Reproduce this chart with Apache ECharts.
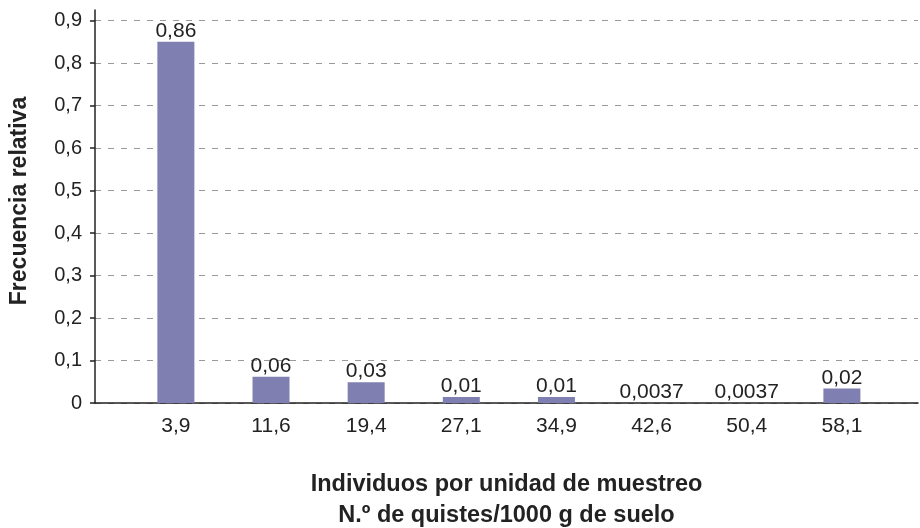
<!DOCTYPE html>
<html>
<head>
<meta charset="utf-8">
<script src="https://cdn.jsdelivr.net/npm/echarts@6/dist/echarts.min.js"></script>
<style>html,body{margin:0;padding:0;background:#fff}#c{width:920px;height:528px}</style>
</head>
<body>
<div id="c"></div>
<script>
const categories = ['3,9', '11,6', '19,4', '27,1', '34,9', '42,6', '50,4', '58,1'];
const barHeights = [0.85, 0.062, 0.049, 0.014, 0.014, 0, 0, 0.034];
const barLabels = ['0,86', '0,06', '0,03', '0,01', '0,01', '0,0037', '0,0037', '0,02'];
const yTicks = [0, 0.1, 0.2, 0.3, 0.4, 0.5, 0.6, 0.7, 0.8, 0.9];
const xTitle = 'Individuos por unidad de muestreo\nN.º de quistes/1000 g de suelo';
const yTitle = 'Frecuencia relativa';

const FONT = '"Liberation Sans", Arial, sans-serif';
const chart = echarts.init(document.getElementById('c'), null, {renderer: 'canvas'});
chart.setOption({
  animation: false,
  backgroundColor: '#fff',
  grid: {left: 95, right: 2, top: 10, bottom: 125, containLabel: false, outerBoundsMode: 'none'},
  graphic: [{
    type: 'text', x: 20, y: 201, rotation: Math.PI / 2,
    style: {text: yTitle, font: 'bold 23px ' + FONT, fill: '#222', align: 'center', verticalAlign: 'middle'}
  }],
  xAxis: {
    type: 'value', min: -0.85, max: 7.8,
    axisLine: {show: true, onZero: false, lineStyle: {color: '#222', width: 1.5}},
    axisTick: {show: false},
    splitLine: {show: false},
    axisLabel: {
      customValues: categories.map((c, i) => i),
      formatter: v => categories[Math.round(v)],
      fontSize: 21, fontFamily: FONT, color: '#222', margin: 13
    },
    name: xTitle, nameLocation: 'middle', nameGap: 66,
    nameTextStyle: {fontSize: 23.5, fontWeight: 'bold', fontFamily: FONT, color: '#222', lineHeight: 31}
  },
  yAxis: {
    type: 'value', min: 0, max: 0.925, interval: 0.1,
    axisLine: {show: true, onZero: false, lineStyle: {color: '#222', width: 1.5}},
    axisTick: {show: true, length: 5, customValues: yTicks, lineStyle: {color: '#222', width: 1.5}},
    axisLabel: {
      customValues: yTicks,
      formatter: v => String(Math.round(v * 10) / 10).replace('.', ','),
      fontSize: 20, fontFamily: FONT, color: '#222', margin: 13
    },
    splitLine: {show: true, showMaxLine: true, lineStyle: {color: '#9a9a9a', width: 1, type: [6, 7]}}
  },
  series: [{
    type: 'bar',
    barWidth: 37,
    data: categories.map((c, i) => [i, barHeights[i]]),
    itemStyle: {color: '#7f7fb2'},
    label: {
      show: true, position: 'top', distance: 0,
      formatter: p => barLabels[p.dataIndex],
      fontSize: 21, fontFamily: FONT, color: '#222'
    }
  }]
});
</script>
</body>
</html>
